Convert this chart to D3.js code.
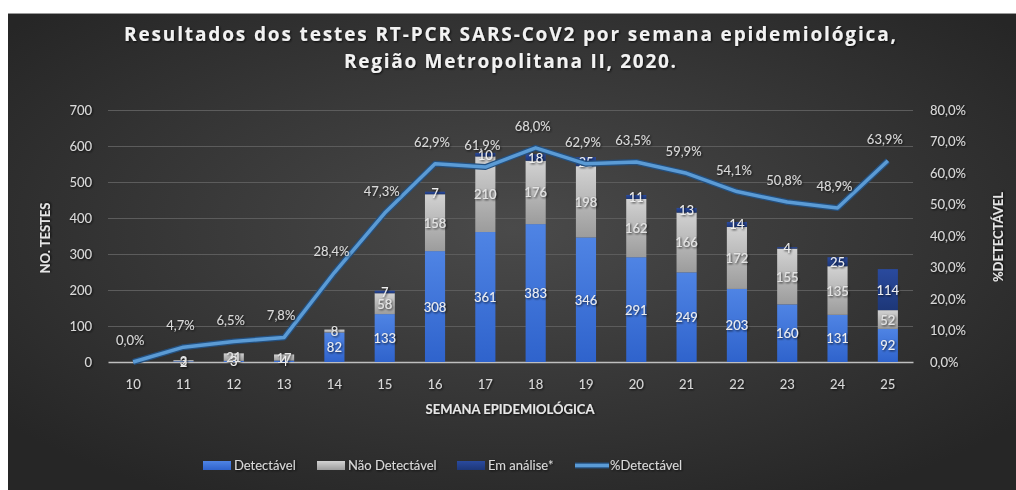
<!DOCTYPE html>
<html><head><meta charset="utf-8">
<script src="https://cdn.jsdelivr.net/npm/d3@7"></script>
<style>
html,body{margin:0;padding:0;background:#fff;}
svg{display:block;}
text{font-family:Lato,"Open Sans",sans-serif;}
</style></head>
<body>
<script>
const weeks = ["10","11","12","13","14","15","16","17","18","19","20","21","22","23","24","25"];
const detectavel    = [0, 2, 3, 4, 82, 133, 308, 361, 383, 346, 291, 249, 203, 160, 131, 92];
const naoDetectavel = [0, 3, 21, 17, 8, 58, 158, 210, 176, 198, 162, 166, 172, 155, 135, 52];
const emAnalise     = [0, 0, 0, 0, 0, 7, 7, 10, 18, 25, 11, 13, 14, 4, 25, 114];
const pctDetectavel = [0.0, 4.7, 6.5, 7.8, 28.4, 47.3, 62.9, 61.9, 68.0, 62.9, 63.5, 59.9, 54.1, 50.8, 48.9, 63.9];
const leftTicks = [0, 100, 200, 300, 400, 500, 600, 700];
const rightTicks = [0, 10, 20, 30, 40, 50, 60, 70, 80];
const titleLines = ["Resultados dos testes RT-PCR SARS-CoV2 por semana epidemiológica,", "Região Metropolitana II, 2020."];

const W = 1016, H = 490;
const svg = d3.select("body").append("svg").attr("width", W).attr("height", H);
const defs = svg.append("defs");

// background
const bg = defs.append("radialGradient").attr("id","bg").attr("cx","50%").attr("cy","45%").attr("r","65%");
bg.append("stop").attr("offset","0%").attr("stop-color","#4a4a4a");
bg.append("stop").attr("offset","100%").attr("stop-color","#262626");
svg.append("rect").attr("x",8).attr("y",13).attr("width",W-8).attr("height",H-13).attr("fill","url(#bg)");
svg.append("line").attr("x1",8).attr("x2",W).attr("y1",13.5).attr("y2",13.5).attr("stroke","#9a9a9a").attr("stroke-width",1);

// gradients for bars
const gBlue = defs.append("linearGradient").attr("id","gBlue").attr("x1",0).attr("x2",0).attr("y1",0).attr("y2",1);
gBlue.append("stop").attr("offset","0%").attr("stop-color","#4f84e4");
gBlue.append("stop").attr("offset","100%").attr("stop-color","#2f63cc");
const gGrey = defs.append("linearGradient").attr("id","gGrey").attr("x1",0).attr("x2",0).attr("y1",0).attr("y2",1);
gGrey.append("stop").attr("offset","0%").attr("stop-color","#d2d2d2");
gGrey.append("stop").attr("offset","100%").attr("stop-color","#9c9c9c");
const gNavy = defs.append("linearGradient").attr("id","gNavy").attr("x1",0).attr("x2",0).attr("y1",0).attr("y2",1);
gNavy.append("stop").attr("offset","0%").attr("stop-color","#2a4a9e");
gNavy.append("stop").attr("offset","100%").attr("stop-color","#1d3778");
const shadow = defs.append("filter").attr("id","sh").attr("x","-10%").attr("y","-10%").attr("width","120%").attr("height","130%");
shadow.append("feDropShadow").attr("dx",1).attr("dy",1).attr("stdDeviation",0.8).attr("flood-color","#000").attr("flood-opacity",0.8);

const x = d3.scaleBand().domain(weeks).range([108, 913]).paddingInner(0.6).paddingOuter(0.3);
const y = d3.scaleLinear().domain([0, 700]).range([362, 110]);
const y2 = d3.scaleLinear().domain([0, 80]).range([362, 110]);
const fmtPct = v => d3.format(".1f")(v).replace(".", ",") + "%";

// title
const title = svg.append("g").attr("filter","url(#sh)");
title.append("text").attr("x",510).attr("y",41).attr("text-anchor","middle")
  .attr("textLength",772).attr("lengthAdjust","spacing")
  .attr("font-size",19).attr("font-weight","bold").style("font-family","'Open Sans',sans-serif").attr("fill","#f2f2f2").text(titleLines[0]);
title.append("text").attr("x",510).attr("y",68).attr("text-anchor","middle")
  .attr("textLength",332).attr("lengthAdjust","spacing")
  .attr("font-size",19).attr("font-weight","bold").style("font-family","'Open Sans',sans-serif").attr("fill","#f2f2f2").text(titleLines[1]);

// gridlines
svg.append("g").selectAll("line").data(leftTicks.filter(d=>d>0)).join("line")
  .attr("x1",108).attr("x2",913).attr("y1",d=>y(d)+0.5).attr("y2",d=>y(d)+0.5)
  .attr("stroke","#5c5c5c").attr("stroke-width",1);

// left axis
const la = svg.append("g").attr("transform","translate(92,0)")
  .call(d3.axisLeft(y).tickValues(leftTicks).tickSize(0).tickPadding(0));
la.select(".domain").remove();
la.selectAll("text").attr("font-size",13).attr("fill","#d9d9d9").attr("filter","url(#sh)");

// right axis
const ra = svg.append("g").attr("transform","translate(930,0)")
  .call(d3.axisRight(y2).tickValues(rightTicks).tickSize(0).tickPadding(0).tickFormat(fmtPct));
ra.select(".domain").remove();
ra.selectAll("text").attr("font-size",13).attr("fill","#d9d9d9").attr("filter","url(#sh)");

// x axis
const xa = svg.append("g").attr("transform","translate(0,362)")
  .call(d3.axisBottom(x).tickSize(0).tickPadding(18));
xa.select(".domain").attr("stroke","#bfbfbf").attr("stroke-width",1.5);
xa.selectAll("text").attr("font-size",13).attr("fill","#d9d9d9").attr("filter","url(#sh)");

// axis titles
svg.append("text").attr("transform","translate(50,238) rotate(-90)").attr("text-anchor","middle")
  .attr("font-size",13).attr("font-weight","bold").attr("fill","#e6e6e6").attr("filter","url(#sh)").text("NO. TESTES");
svg.append("text").attr("transform","translate(1003,237) rotate(-90)").attr("text-anchor","middle")
  .attr("font-size",13).attr("font-weight","bold").attr("fill","#e6e6e6").attr("filter","url(#sh)").text("%DETECTÁVEL");
svg.append("text").attr("x",510).attr("y",414).attr("text-anchor","middle")
  .attr("font-size",13).attr("font-weight","bold").attr("fill","#e6e6e6").attr("filter","url(#sh)").text("SEMANA EPIDEMIOLÓGICA");

// stacked bars
const rows = weeks.map((w,i)=>({week:w, det:detectavel[i], non:naoDetectavel[i], ana:emAnalise[i]}));
const keys = ["det","non","ana"];
const fills = {det:"url(#gBlue)", non:"url(#gGrey)", ana:"url(#gNavy)"};
const stack = d3.stack().keys(keys)(rows);
const bars = svg.append("g");
stack.forEach(layer=>{
  bars.append("g").selectAll("rect").data(layer).join("rect")
    .attr("x",d=>x(d.data.week)).attr("width",x.bandwidth())
    .attr("y",d=>y(d[1])).attr("height",d=>Math.max(0,y(d[0])-y(d[1])))
    .attr("fill",fills[layer.key]);
});
// segment labels
const lbl = svg.append("g").attr("filter","url(#sh)");
stack.forEach(layer=>{
  lbl.append("g").selectAll("text").data(layer.filter(d=>d.data[layer.key]>0)).join("text")
    .attr("x",d=>x(d.data.week)+x.bandwidth()/2)
    .attr("y",d=>y((d[0]+d[1])/2)+5)
    .attr("text-anchor","middle").attr("font-size",13)
    .attr("fill", layer.key==="non" ? "#e4e4e4" : "#eeeeee")
    .text(d=>d.data[layer.key]);
});

// line
const line = d3.line().x((d,i)=>x(weeks[i])+x.bandwidth()/2).y(d=>y2(d));
svg.append("path").datum(pctDetectavel).attr("d",line).attr("fill","none")
  .attr("stroke","#24507f").attr("stroke-width",6).attr("stroke-linejoin","round");
svg.append("path").datum(pctDetectavel).attr("d",line).attr("fill","none")
  .attr("stroke","#5b9bd5").attr("stroke-width",3.5).attr("stroke-linejoin","round");
svg.append("g").attr("filter","url(#sh)").selectAll("text").data(pctDetectavel).join("text")
  .attr("x",(d,i)=>x(weeks[i])+x.bandwidth()/2 - 3)
  .attr("y",d=>y2(d)-17)
  .attr("text-anchor","middle").attr("font-size",13).attr("fill","#d9d9d9")
  .text(d=>fmtPct(d));

// legend
const legend = [
  {name:"Detectável", type:"rect", fill:"url(#gBlue)", x:203},
  {name:"Não Detectável", type:"rect", fill:"url(#gGrey)", x:317},
  {name:"Em análise*", type:"rect", fill:"url(#gNavy)", x:457},
  {name:"%Detectável", type:"line", fill:"#5b9bd5", x:575}
];
const lg = svg.append("g");
legend.forEach(l=>{
  if(l.type==="rect"){
    lg.append("rect").attr("x",l.x).attr("y",461).attr("width",28).attr("height",9).attr("fill",l.fill);
  } else {
    lg.append("line").attr("x1",l.x).attr("x2",l.x+34).attr("y1",465.5).attr("y2",465.5).attr("stroke","#24507f").attr("stroke-width",6);
    lg.append("line").attr("x1",l.x).attr("x2",l.x+34).attr("y1",465.5).attr("y2",465.5).attr("stroke","#5b9bd5").attr("stroke-width",3.5);
  }
  lg.append("text").attr("x",l.x + (l.type==="rect"?31:35)).attr("y",470).attr("font-size",13)
    .attr("fill","#d9d9d9").attr("filter","url(#sh)").text(l.name);
});
</script>
</body></html>
